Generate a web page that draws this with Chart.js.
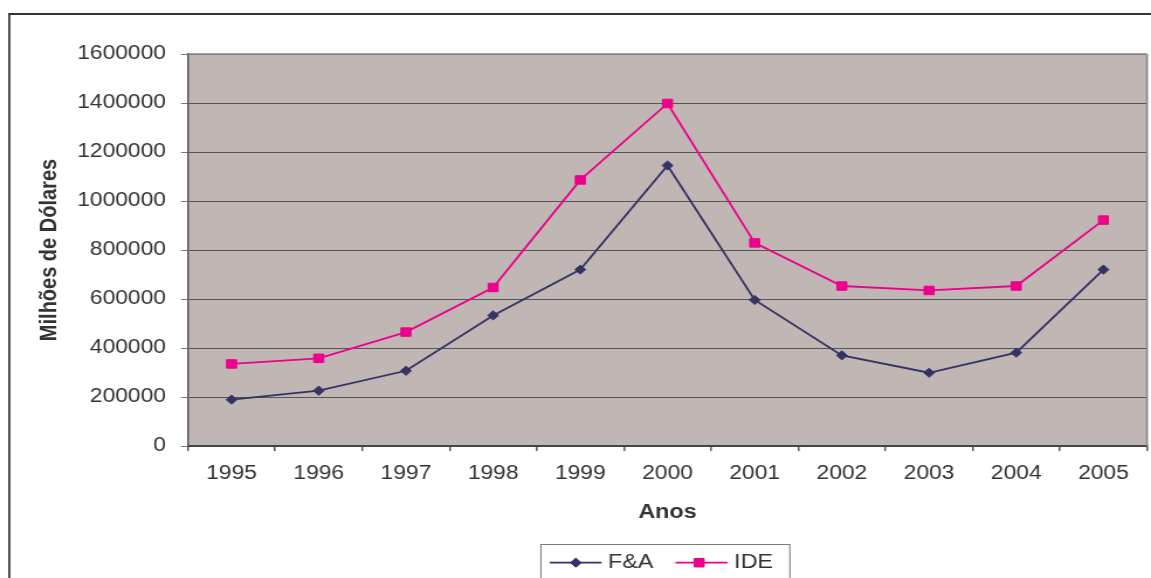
<!DOCTYPE html>
<html><head><meta charset="utf-8">
<script src="https://cdn.jsdelivr.net/npm/chart.js@4/dist/chart.umd.min.js"></script>
<style>
html,body{margin:0;padding:0;background:#fff;overflow:hidden}
#wrap{width:1151px;height:578px;overflow:hidden;position:relative;background:#fff}
#c{position:absolute;left:0;top:0;width:984px;height:578px;transform:scaleX(1.169715);transform-origin:0 0}
</style></head><body>
<div id="wrap"><canvas id="c" width="984" height="578"></canvas></div>
<script>
const years = ['1995','1996','1997','1998','1999','2000','2001','2002','2003','2004','2005'];
const faValues = [189000, 226000, 307000, 533000, 720000, 1145000, 596000, 370000, 299000, 381000, 720000];
const ideValues = [335000, 358000, 465000, 647000, 1086000, 1398000, 829000, 653000, 635000, 653000, 922000];
const seriesNames = ['F&A', 'IDE'];
const yTitle = 'Milhões de Dólares';
const xTitle = 'Anos';
const yMin = 0, yMax = 1600000, yStep = 200000;

const SX = 1151 / 984;
const FONT = "Arial, 'Liberation Sans', sans-serif";

const framePlugin = {
  id: 'frame',
  beforeDraw(chart) {
    const {ctx, chartArea: a, width, height} = chart;
    ctx.save();
    ctx.fillStyle = '#fff';
    ctx.fillRect(0, 0, width, height);
    ctx.fillStyle = '#C0B6B3';
    ctx.fillRect(a.left, a.top, a.right - a.left, a.bottom - a.top);
    ctx.strokeStyle = '#333';
    ctx.lineWidth = 2;
    ctx.beginPath();
    ctx.moveTo(7.1, 14); ctx.lineTo(width, 14);
    ctx.stroke();
    ctx.lineWidth = 2 / SX;
    ctx.beginPath();
    ctx.moveTo(7.95, 13); ctx.lineTo(7.95, height);
    ctx.stroke();
    ctx.restore();
  },
  beforeDatasetsDraw(chart) {
    const {ctx, chartArea: a} = chart;
    ctx.save();
    ctx.strokeStyle = '#8f8886';
    ctx.lineWidth = 2 / SX;
    ctx.beginPath();
    ctx.moveTo(a.right, a.top); ctx.lineTo(a.right, a.bottom);
    ctx.stroke();
    ctx.lineWidth = 1.5;
    ctx.beginPath();
    ctx.moveTo(a.left, a.top); ctx.lineTo(a.right, a.top);
    ctx.stroke();
    ctx.restore();
  },
  afterDraw(chart) {
    const {ctx} = chart;
    const ds = chart.data.datasets;
    ctx.save();
    ctx.strokeStyle = '#7a7a7a';
    ctx.lineWidth = 1;
    ctx.strokeRect(462.4, 544.5, 212.8, 50);
    const items = [
      {x0: 470, x1: 514.3, mx: 492.3, tx: 519.7},
      {x0: 577.5, x1: 622, mx: 597.7, tx: 627.6}
    ];
    const y = 562.7;
    ds.forEach((d, i) => {
      const it = items[i];
      ctx.strokeStyle = d.borderColor;
      ctx.lineWidth = 1.8;
      ctx.beginPath();
      ctx.moveTo(it.x0, y); ctx.lineTo(it.x1, y);
      ctx.stroke();
      ctx.fillStyle = d.backgroundColor;
      ctx.strokeStyle = d.borderColor;
      ctx.lineWidth = 1;
      Chart.helpers.drawPoint(ctx, {pointStyle: d.pointStyle, radius: d.pointRadius, rotation: 0, borderWidth: 1}, it.mx, y);
      ctx.fillStyle = '#333';
      ctx.font = '20px ' + FONT;
      ctx.textBaseline = 'alphabetic';
      ctx.textAlign = 'left';
      ctx.fillText(d.label, it.tx, 567.5);
    });
    ctx.restore();
  }
};

new Chart(document.getElementById('c'), {
  type: 'line',
  data: {
    labels: years,
    datasets: [
      {
        label: seriesNames[0], data: faValues,
        borderColor: '#333366', backgroundColor: '#333366',
        borderWidth: 1.8, pointStyle: 'rectRot', pointRadius: 4.6, pointBorderWidth: 1,
        pointHoverRadius: 4.6, tension: 0, fill: false
      },
      {
        label: seriesNames[1], data: ideValues,
        borderColor: '#EC008C', backgroundColor: '#EC008C',
        borderWidth: 1.8, pointStyle: 'rect', pointRadius: 6, pointBorderWidth: 1,
        pointHoverRadius: 6, tension: 0, fill: false
      }
    ]
  },
  options: {
    responsive: false,
    animation: false,
    devicePixelRatio: 1,
    layout: {autoPadding: false, padding: {left: 0, top: 54, right: 3.4, bottom: 42}},
    plugins: {legend: {display: false}, tooltip: {enabled: false}, title: {display: false}},
    scales: {
      x: {
        type: 'category',
        offset: true,
        afterFit(s) { s.height = 90; s.paddingLeft = 0; s.paddingRight = 0; },
        grid: {drawOnChartArea: false, drawTicks: true, tickLength: 5, tickColor: '#555', offset: true, lineWidth: 1.5},
        border: {display: true, color: '#444', width: 2},
        ticks: {padding: 11, color: '#333', font: {family: FONT, size: 19.5}, maxRotation: 0, autoSkip: false},
        title: {display: true, text: xTitle, color: '#333', font: {family: FONT, size: 20, weight: 'bold'}, padding: {top: 0, bottom: 12}}
      },
      y: {
        min: yMin, max: yMax,
        afterFit(s) { s.width = 160.7; s.paddingTop = 0; s.paddingBottom = 0; },
        grid: {color: '#555', lineWidth: 1, tickLength: 6, tickColor: '#777', drawTicks: true},
        border: {display: true, color: '#555', width: 1.5},
        ticks: {stepSize: yStep, padding: 12.8, color: '#333', font: {family: FONT, size: 19.5}, callback: v => String(v)},
        title: {display: true, text: yTitle, color: '#333', font: {family: FONT, size: 20, weight: 'bold'}, padding: {top: 30, bottom: 0}}
      }
    }
  },
  plugins: [framePlugin]
});
</script>
</body></html>
